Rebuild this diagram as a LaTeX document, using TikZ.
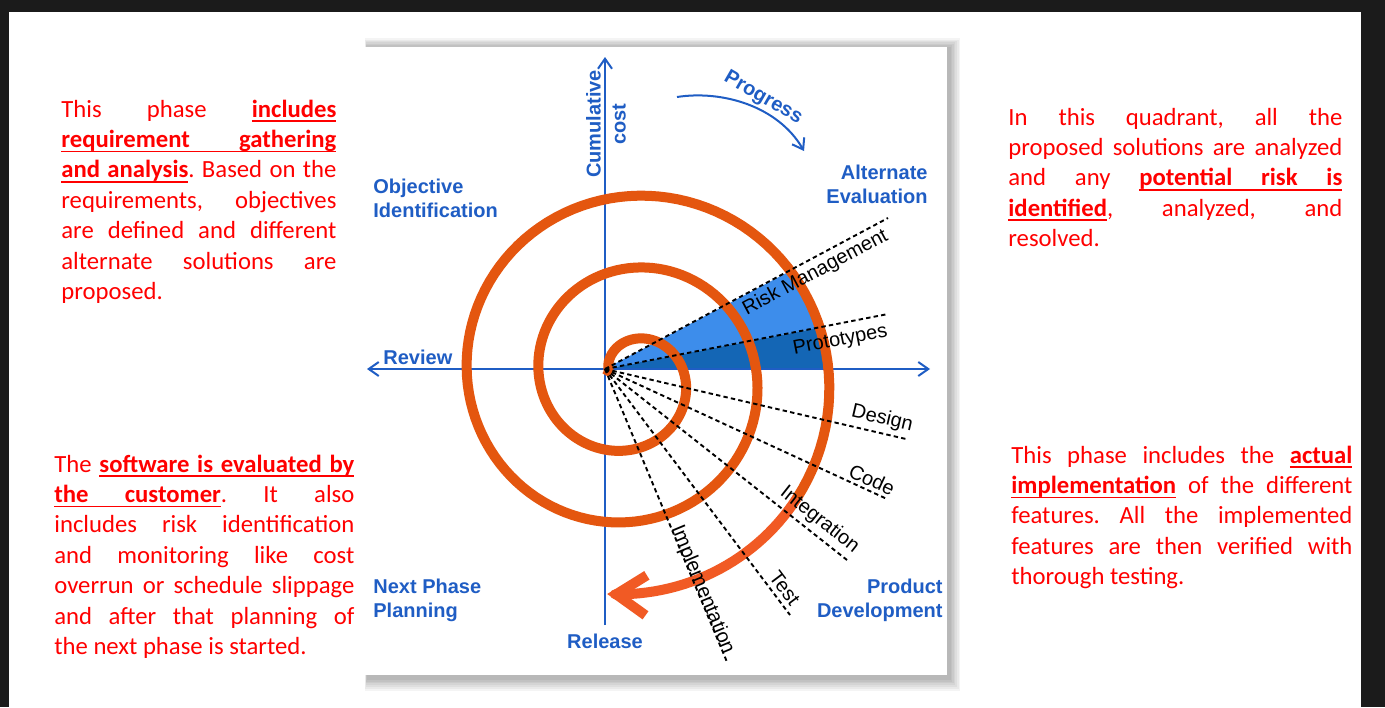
\documentclass[tikz,border=0pt]{standalone}
\usepackage{fontspec}
\setmainfont{Liberation Sans}
\newfontfamily\notefont{Carlito}
\usetikzlibrary{arrows.meta,positioning}
\definecolor{frame}{HTML}{1B1B1B}
\definecolor{axblue}{HTML}{1F5DC4}
\definecolor{coilc}{HTML}{E4560F}
\definecolor{coilhic}{HTML}{F15A24}
\definecolor{ltwedge}{HTML}{3D8DEB}
\definecolor{dkwedge}{HTML}{1466B5}
\definecolor{notered}{HTML}{FF0000}
\hbadness=10000
\newcommand{\ulw}[1]{\setbox0=\hbox{#1}\rlap{\vrule height -1.6pt depth 2.4pt width \wd0}\box0}
\newcommand{\ulsp}{\leaders\hrule height -1.6pt depth 2.4pt\hskip\fontdimen2\font plus\fontdimen3\font minus\fontdimen4\font\relax}
\def\ulwords#1 #2\relax{\ulw{#1}\ifx\relax#2\relax\else\ulsp\ulwords#2\relax\fi}
\newcommand{\ulp}[1]{{\bfseries\ulwords#1 \relax}}
\newcommand{\jl}[1]{\hbox to\hsize{#1}}
\newcommand{\lastln}[1]{\hbox{#1}}
\newcommand{\notepar}[2]{\vtop{\hsize=#1\frenchspacing#2}}
\tikzset{
  note/.style={font=\notefont\fontsize{12.35}{15.2}\selectfont,text=notered,inner sep=0pt,anchor=base west},
  quad/.style={font=\fontsize{10}{11.8}\selectfont\bfseries,text=axblue,inner sep=0pt},
  phase/.style={font=\fontsize{10}{12}\selectfont,sloped},
  axis/.style={draw=axblue,line width=1pt},
  tipax/.style={-{Straight Barb[length=5pt,width=7pt]}},
  ray/.style={line width=0.95pt,dash pattern=on 2.2pt off 1.6pt},
  coil/.style={draw=coilc,line width=5pt,line join=round},
}

\begin{document}
\begin{tikzpicture}[x=0.5pt,y=-0.5pt,
  declare function={sr(\t)=37+0.2*\t; sx(\t)=630+sr(\t)*sin(\t); sy(\t)=377-sr(\t)*cos(\t);}]
  \useasboundingbox (0,0) rectangle (1385,707);
  \fill[white] (0,0) rectangle (1385,707);
  \fill[frame] (0,0) rectangle (1385,12);
  \fill[frame] (0,0) rectangle (9,707);
  \fill[frame] (1361,0) rectangle (1385,707);
  \foreach \i in {1,...,7}
    \fill[black,opacity=0.045] (367-0.3*\i,48-1.4*\i) rectangle (949+1.6*\i,678+1.8*\i);
  \fill[white] (365,47) rectangle (947,675);

  \coordinate (O) at (605,369);
  \coordinate (xL) at (367,369);
  \coordinate (xR) at (930,369);
  \coordinate (yT) at (605,57);
  \coordinate (yB) at (605,625);
  \coordinate (prgA) at (677,97);
  \coordinate (prgB) at (804,151);
  \coordinate (rk) at (888,218);
  \coordinate (pr) at (888,314);
  \coordinate (dsg) at (906,439);
  \coordinate (cod) at (887,499);
  \coordinate (itg) at (847,560);
  \coordinate (tst) at (790,615);
  \coordinate (imp) at (727,662);

  \fill[ltwedge] (O) -- plot[variable=\t,domain=776.5:795.4,samples=20] ({sx(\t)},{sy(\t)}) -- cycle;
  \fill[dkwedge] (O) -- plot[variable=\t,domain=795.4:807.7,samples=20] ({sx(\t)},{sy(\t)}) -- cycle;
  \draw[axis,{Straight Barb[length=5pt,width=7pt]}-{Straight Barb[length=5pt,width=7pt]}] (xL) -- (xR);
  \draw[axis,tipax] (yB) -- (yT);
  \draw[axis,tipax] (prgA) .. controls (722,90) and (778,106) .. (prgB);
  \draw[coil] (O) -- plot[variable=\t,domain=-75:846,samples=300] ({sx(\t)},{sy(\t)});
  \draw[coil,draw=coilhic,-{Straight Barb[length=15pt,width=20pt]}] plot[variable=\t,domain=846:906,samples=30] ({sx(\t)},{sy(\t)});
  \foreach \e/\txt/\p/\a/\d in {rk/Risk Management/0.72/north/2pt, pr/Prototypes/0.82/north/3.5pt,
      dsg/Design/0.91/south/2pt, cod/Code/0.93/south/1.5pt, itg/Integration/0.85/south/2pt,
      tst/Test/0.92/south/2pt, imp/Implementation/0.76/base/0pt}
    \draw[ray] (O) -- (\e) node[phase,pos=\p,anchor=\a,inner sep=\d] {\txt};

  \node[quad,anchor=base west,align=left] (objid) at (373,217) {Objective\\Identification};
  \node[quad,anchor=base east,align=right] (alteval) at (928,203) {Alternate\\Evaluation};
  \node[quad,anchor=base west] (review) at (383,364) {Review};
  \node[quad,anchor=base west,align=left] (nextph) at (373,617) {Next Phase\\Planning};
  \node[quad,anchor=base] (release) at (605,648) {Release};
  \node[quad,anchor=base east,align=right] (proddev) at (943,617) {Product\\Development};
  \node[quad,rotate=90,align=center,font=\fontsize{10}{12.5}\selectfont\bfseries] (cumcost) at (606,124) {Cumulative\\cost};
  \node[quad,rotate=-30] (progress) at (763,98) {Progress};

  \node[note] (objtxt) at (61,117) {\notepar{137.5pt}{%
    \jl{This phase \ulp{includes}}
    \jl{\ulp{requirement gathering}}
    \jl{\ulp{and analysis}. Based on the}
    \jl{requirements, objectives}
    \jl{are defined and different}
    \jl{alternate solutions are}
    \lastln{proposed.}}};
  \node[note] (risktxt) at (1008,125) {\notepar{167pt}{%
    \jl{In this quadrant, all the}
    \jl{proposed solutions are analyzed}
    \jl{and any \ulp{potential risk is}}
    \jl{\ulp{identified}, analyzed, and}
    \lastln{resolved.}}};
  \node[note] (evaltxt) at (54,472) {\notepar{150pt}{%
    \jl{The \ulp{software is evaluated by}}
    \jl{\ulp{the customer}. It also}
    \jl{includes risk identification}
    \jl{and monitoring like cost}
    \jl{overrun or schedule slippage}
    \jl{and after that planning of}
    \lastln{the next phase is started.}}};
  \node[note] (devtxt) at (1011,463) {\notepar{170.5pt}{%
    \jl{This phase includes the \ulp{actual}}
    \jl{\ulp{implementation} of the different}
    \jl{features. All the implemented}
    \jl{features are then verified with}
    \lastln{thorough testing.}}};
\end{tikzpicture}
\end{document}
